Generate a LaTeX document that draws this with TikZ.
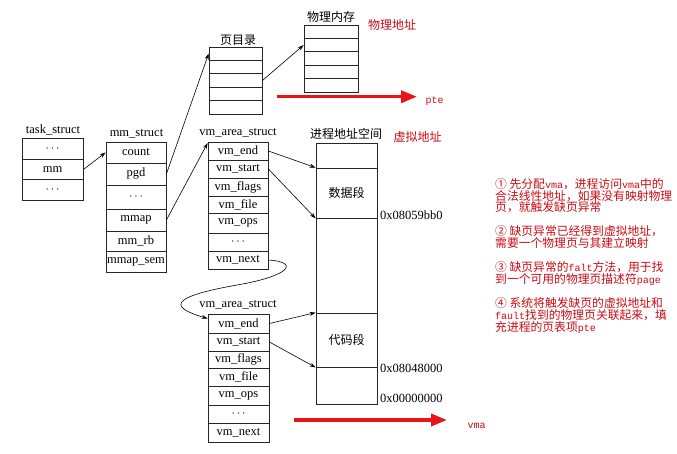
\documentclass[tikz,border=0pt]{standalone}
\usepackage{fontspec}
\setmainfont{Liberation Serif}
\newfontfamily\cjk{Noto Sans CJK SC}
\newfontfamily\mono{Liberation Mono}
\usetikzlibrary{arrows.meta}
\definecolor{redtext}{RGB}{205,10,20}
\definecolor{redarrow}{RGB}{235,20,20}
\begin{document}
\begin{tikzpicture}[x=1pt,y=-1pt,
 cell/.style={draw=black!85, line width=0.8pt, inner sep=0pt, font=\fontsize{12.5}{13}\selectfont},
 lbl/.style={inner sep=0pt, font=\fontsize{12.5}{13}\selectfont},
 cjklbl/.style={inner sep=0pt, font=\cjk\fontsize{12}{13}\selectfont},
 conn/.style={line width=0.6pt, -{Stealth[length=6pt,width=4pt]}},
 redarr/.style={draw=redarrow, line width=3.5pt, -{Triangle[length=16pt,width=12pt]}},
 redlbl/.style={text=redtext, inner sep=0pt, font=\cjk\fontsize{12}{13}\selectfont},
 redmono/.style={text=redtext, inner sep=0pt, font=\mono\fontsize{10}{11}\selectfont},
 redtxt/.style={text=redtext, inner sep=0pt, anchor=base west, font=\cjk\fontsize{11.8}{13}\selectfont}
]
\useasboundingbox (0,0) rectangle (677,453);
\fill[white] (0,0) rectangle (677,453);

% task_struct
\node[lbl] (tl) at (53,130) {task\_struct};
\node[cell, minimum width=61pt, minimum height=20.5pt] (t1) at (52.5,149) {$\cdots$};
\node[cell, minimum width=61pt, minimum height=20.5pt] (tm) at (52.5,169.5) {mm};
\node[cell, minimum width=61pt, minimum height=20.5pt] (t3) at (52.5,190) {$\cdots$};

% mm_struct
\node[lbl] (ml) at (136.5,133.5) {mm\_struct};
\node[cell, minimum width=60pt, minimum height=21pt] (mc) at (136,152.5) {count};
\node[cell, minimum width=60pt, minimum height=22pt] (mp) at (136,174) {pgd};
\node[cell, minimum width=60pt, minimum height=24pt] (md) at (136,197) {$\cdots$};
\node[cell, minimum width=60pt, minimum height=22pt] (mm) at (136,220) {mmap};
\node[cell, minimum width=60pt, minimum height=20pt] (mr) at (136,241) {mm\_rb};
\node[cell, minimum width=60pt, minimum height=21pt] (ms) at (136,261.5) {mmap\_sem};

% top vm_area_struct
\node[lbl] (vl) at (238,132.5) {vm\_area\_struct};
\node[cell, minimum width=60pt, minimum height=18pt] (vt1) at (238,151) {vm\_end};
\node[cell, minimum width=60pt, minimum height=18pt] (vt2) at (238,169) {vm\_start};
\node[cell, minimum width=60pt, minimum height=18pt] (vt3) at (238,187) {vm\_flags};
\node[cell, minimum width=60pt, minimum height=17pt] (vt4) at (238,204.5) {vm\_file};
\node[cell, minimum width=60pt, minimum height=20pt] (vt5) at (238,223) {vm\_ops};
\node[cell, minimum width=60pt, minimum height=18pt] (vt6) at (238,242) {$\cdots$};
\node[cell, minimum width=60pt, minimum height=18pt] (vt7) at (238,260) {vm\_next};

% bottom vm_area_struct
\node[lbl] (bl) at (238,305) {vm\_area\_struct};
\node[cell, minimum width=61pt, minimum height=19pt] (bv1) at (238.5,323.5) {vm\_end};
\node[cell, minimum width=61pt, minimum height=18pt] (bv2) at (238.5,342) {vm\_start};
\node[cell, minimum width=61pt, minimum height=17pt] (bv3) at (238.5,359.5) {vm\_flags};
\node[cell, minimum width=61pt, minimum height=18pt] (bv4) at (238.5,377) {vm\_file};
\node[cell, minimum width=61pt, minimum height=19pt] (bv5) at (238.5,395.5) {vm\_ops};
\node[cell, minimum width=61pt, minimum height=18pt] (bv6) at (238.5,414) {$\cdots$};
\node[cell, minimum width=61pt, minimum height=19pt] (bv7) at (238.5,432.5) {vm\_next};

% page directory
\node[cjklbl] (pdl) at (238,40) {页目录};
\node[cell, minimum width=53pt, minimum height=13.4pt] (pd1) at (235.5,53.7) {};
\node[cell, minimum width=53pt, minimum height=13.4pt] (pd2) at (235.5,67.1) {};
\node[cell, minimum width=53pt, minimum height=13.4pt] (pd3) at (235.5,80.5) {};
\node[cell, minimum width=53pt, minimum height=13.4pt] (pd4) at (235.5,93.9) {};
\node[cell, minimum width=53pt, minimum height=13.4pt] (pd5) at (235.5,107.3) {};

% physical memory
\node[cjklbl] (pml) at (331,17) {物理内存};
\node[cell, minimum width=54pt, minimum height=13.4pt] (pm1) at (331,31.7) {};
\node[cell, minimum width=54pt, minimum height=13.4pt] (pm2) at (331,45.1) {};
\node[cell, minimum width=54pt, minimum height=13.4pt] (pm3) at (331,58.5) {};
\node[cell, minimum width=54pt, minimum height=13.4pt] (pm4) at (331,71.9) {};
\node[cell, minimum width=54pt, minimum height=13.4pt] (pm5) at (331,85.3) {};
\node[redlbl] (pa) at (392,25) {物理地址};

% process address space
\node[cjklbl] (asl) at (346,134) {进程地址空间};
\node[redlbl] (va) at (417.5,136.5) {虚拟地址};
\node[cell, minimum width=61pt, minimum height=25pt] (as1) at (346.5,155.5) {};
\node[cell, minimum width=61pt, minimum height=50pt, font=\cjk\fontsize{12}{13}\selectfont] (as2) at (346.5,193) {数据段};
\node[cell, minimum width=61pt, minimum height=95pt] (as3) at (346.5,265.5) {};
\node[cell, minimum width=61pt, minimum height=54pt, font=\cjk\fontsize{12}{13}\selectfont] (as4) at (346.5,340) {代码段};
\node[cell, minimum width=61pt, minimum height=37pt] (as5) at (346.5,385.5) {};
\node[lbl, anchor=west] (h1) at (380,215) {0x08059bb0};
\node[lbl, anchor=west] (h2) at (380,368) {0x08048000};
\node[lbl, anchor=west] (h3) at (380,398) {0x00000000};

% black connectors
\draw[conn] (tm.east) -- (mc.west);
\draw[conn] (mp.east) -- (pd1.west);
\draw[conn] (mm.east) -- ([yshift=-1.5pt]vt1.north west);
\draw[conn] (pd3.east) -- (pm2.west);
\draw[conn] (vt1.east) -- (as2.north west);
\draw[conn] (vt2.east) -- (as2.south west);
\draw[conn] (bv1.east) -- (as4.north west);
\draw[conn] (bv2.east) -- (as4.south west);
\draw[conn] (vt7.east) .. controls (300,262) and (290,276) .. (237,285)
  .. controls (175,296) and (165,306) .. ([yshift=5pt]bv1.west);

% red arrows
\coordinate (ptes) at (277,96.7);
\coordinate (ptee) at (417,96.7);
\node[redmono] (pte) at (434.5,101.5) {pte};
\draw[redarr] (ptes) -- (ptee);
\coordinate (vmas) at (294,420);
\coordinate (vmae) at (447,420);
\node[redmono] (vma) at (476.5,425.5) {vma};
\draw[redarr] (vmas) -- (vmae);

% explanation
\node[redtxt] (r1) at (495,188.5) {① 先分配{\mono\fontsize{10}{11}\selectfont vma}，进程访问{\mono\fontsize{10}{11}\selectfont vma}中的};
\node[redtxt] (r2) at (495,200) {合法线性地址，如果没有映射物理};
\node[redtxt] (r3) at (495,211.5) {页，就触发缺页异常};
\node[redtxt] (r4) at (495,235.5) {② 缺页异常已经得到虚拟地址，};
\node[redtxt] (r5) at (495,247.5) {需要一个物理页与其建立映射};
\node[redtxt] (r6) at (495,271.5) {③ 缺页异常的{\mono\fontsize{10}{11}\selectfont falt}方法，用于找};
\node[redtxt] (r7) at (495,283.5) {到一个可用的物理页描述符{\mono\fontsize{10}{11}\selectfont page}};
\node[redtxt] (r8) at (495,307.5) {④ 系统将触发缺页的虚拟地址和};
\node[redtxt] (r9) at (495,319.5) {{\mono\fontsize{10}{11}\selectfont fault}找到的物理页关联起来，填};
\node[redtxt] (r10) at (495,331.5) {充进程的页表项{\mono\fontsize{10}{11}\selectfont pte}};
\end{tikzpicture}
\end{document}
